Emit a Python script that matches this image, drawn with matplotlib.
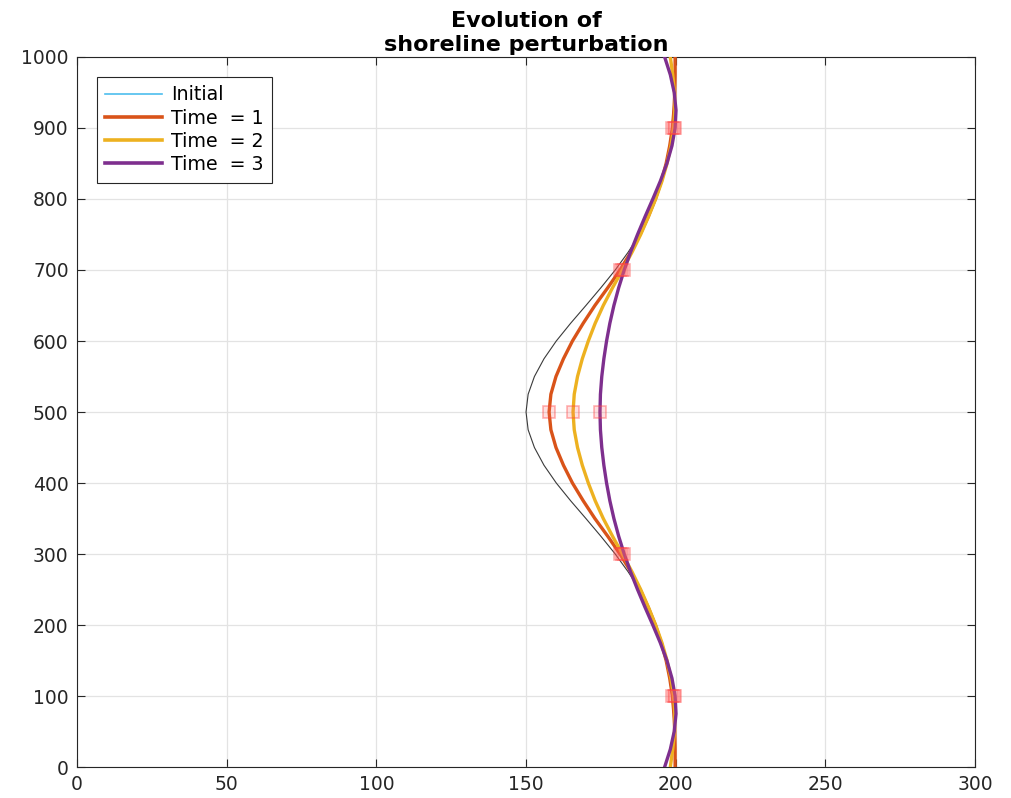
#!/usr/bin/env python3

import numpy as np
import matplotlib.pyplot as plt
from matplotlib.lines import Line2D

## Data (alongshore position y, shoreline position x)
# values given for distance from the centre (y = 500) in steps of 25, mirrored below
dist = list(range(0, 525, 25))

x_initial = [150.0, 150.7, 152.8, 156.0, 160.1, 164.9, 170.0, 175.0, 179.8, 184.1,
             187.9, 191.0, 193.5, 195.4, 196.9, 197.9, 198.7, 199.2, 199.5, 199.7, 199.8]
x_time1 = [157.7, 158.3, 160.0, 162.5, 165.5, 169.1, 173.0, 177.3, 181.4, 185.0,
           188.1, 190.8, 193.2, 195.2, 196.8, 198.0, 198.9, 199.4, 199.7, 199.8, 199.8]
x_time2 = [165.7, 166.1, 167.2, 168.8, 170.8, 173.1, 175.8, 178.9, 182.2, 185.4,
           188.3, 190.9, 193.3, 195.4, 197.1, 198.4, 199.3, 199.7, 199.6, 199.0, 198.2]
x_time3 = [174.7, 174.85, 175.3, 176.0, 176.9, 178.0, 179.35, 180.95, 182.8, 184.9,
           187.25, 189.75, 192.35, 194.85, 197.05, 198.75, 199.8, 200.1, 199.5, 198.2, 196.3]

marker_y = [100, 300, 500, 700, 900]

labels = ['Initial', 'Time  = 1', 'Time  = 2', 'Time  = 3']
colors = ['#4DBEEE', '#D95319', '#EDB120', '#7E2F8E']

title = 'Evolution of\nshoreline perturbation'


def mirror(vals):
  # full profile from y = 0 to 1000
  return list(vals[::-1]) + list(vals[1:])


def main():
  y = [500 - d for d in dist[::-1]] + [500 + d for d in dist[1:]]

  fig = plt.figure(figsize=(10.12, 7.98), dpi=100)
  ax = fig.add_axes([0.0761, 0.0388, 0.8874, 0.8898])

  ax.plot(mirror(x_initial), y, color='#3a3a3a', lw=0.8, zorder=3)

  for xs, col in zip([x_time1, x_time2, x_time3], colors[1:]):
    full = mirror(xs)
    ax.plot(full, y, color=col, lw=2.4, zorder=4)
    mx = [full[y.index(v)] for v in marker_y]
    ax.plot(mx, marker_y, ls='none', marker='s', ms=8, mfc=(1, 0.4, 0.4, 0.2),
            mec=(1, 0.25, 0.25, 0.4), mew=1.2, zorder=5)

  ax.set_xlim(0, 300)
  ax.set_ylim(0, 1000)
  ax.set_xticks(range(0, 301, 50))
  ax.set_yticks(range(0, 1001, 100))
  ax.grid(True, color='#e3e3e3', lw=0.9)
  ax.set_axisbelow(True)
  ax.tick_params(direction='in', top=True, right=True, length=6, width=0.8,
                 labelsize=13.5, colors='#262626', pad=6)
  for sp in ax.spines.values():
    sp.set_color('#262626')
    sp.set_linewidth(0.8)

  ax.set_title(title, fontsize=16, fontweight='bold', linespacing=1.3, pad=4)

  handles = [Line2D([0], [0], color=colors[0], lw=1.2)]
  handles += [Line2D([0], [0], color=c, lw=2.6) for c in colors[1:]]
  leg = ax.legend(handles, labels, loc='upper left', bbox_to_anchor=(0.022, 0.972),
                  borderaxespad=0, fontsize=13.7, handlelength=3.0, labelspacing=0.22,
                  handletextpad=0.45, borderpad=0.45, fancybox=False, framealpha=1)
  leg.get_frame().set_edgecolor('#262626')
  leg.get_frame().set_linewidth(0.8)

  fig.savefig('out.png', dpi=100)


if __name__ == '__main__':
  main()
